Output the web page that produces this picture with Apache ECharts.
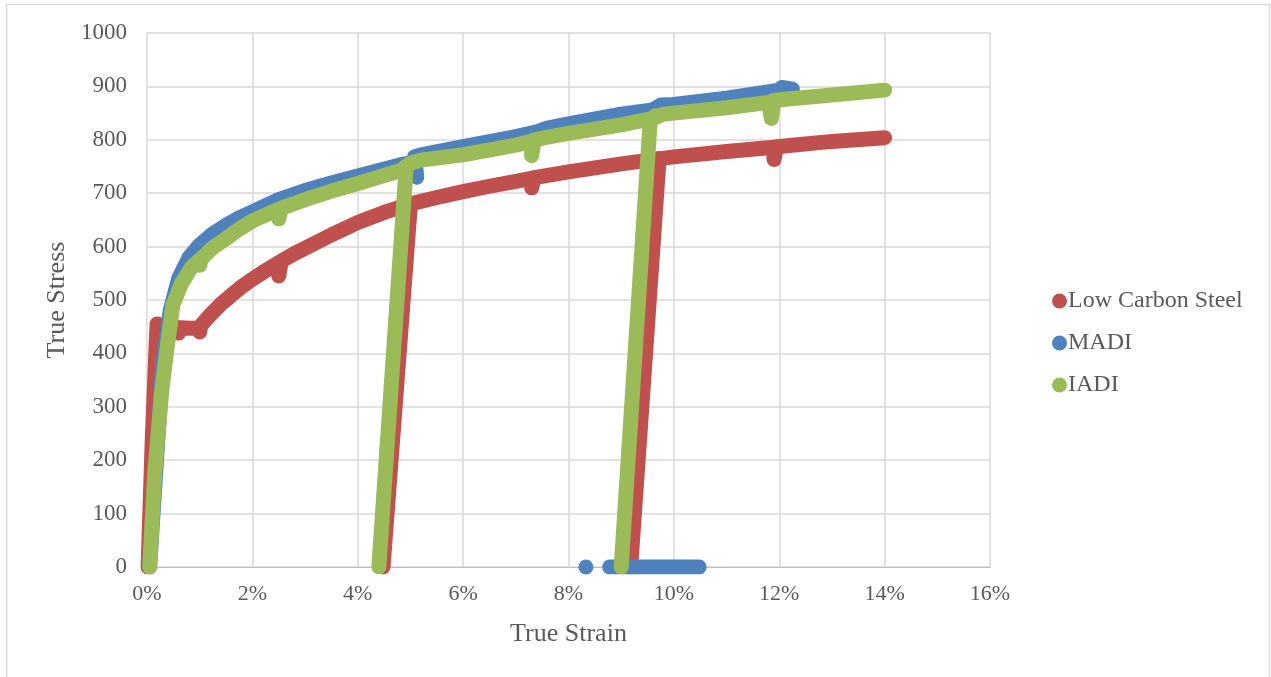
<!DOCTYPE html>
<html>
<head>
<meta charset="utf-8">
<script src="https://cdn.jsdelivr.net/npm/echarts@6/dist/echarts.min.js"></script>
<style>
  html, body { margin: 0; padding: 0; background: #fff; }
  #chart { width: 1271px; height: 677px; }
</style>
</head>
<body>
<div id="chart"></div>
<script>
// Axis ticks
const strainTicks = [0, 0.02, 0.04, 0.06, 0.08, 0.10, 0.12, 0.14, 0.16];
const stressTicks = [0, 100, 200, 300, 400, 500, 600, 700, 800, 900, 1000];

// Low Carbon Steel: [true strain, true stress]
const lowCarbonMain = [
  [0.0002, 0], [0.0010, 240], [0.0019, 455], [0.0035, 452], [0.0060, 448],
  [0.0060, 438], [0.0062, 448], [0.0085, 447], [0.0100, 447], [0.0100, 440],
  [0.0102, 452], [0.0120, 472], [0.0140, 492], [0.0160, 509], [0.0180, 525],
  [0.0200, 539], [0.0225, 555], [0.0250, 570], [0.0250, 545], [0.0255, 573],
  [0.0280, 587], [0.0300, 597], [0.0350, 622], [0.0400, 645], [0.0450, 664],
  [0.0500, 680], [0.0550, 692], [0.0600, 703], [0.0650, 713], [0.0700, 722],
  [0.0730, 728], [0.0730, 710], [0.0735, 729], [0.0800, 740], [0.0900, 755],
  [0.1000, 768], [0.1100, 778], [0.1190, 786], [0.1190, 763], [0.1195, 787],
  [0.1300, 797], [0.1400, 804]
];
const lowCarbonReload1 = [[0.0448, 0], [0.0500, 680]];
const lowCarbonReload2 = [[0.0918, 0], [0.0972, 765]];

// MADI
const madiMain = [
  [0.0005, 0], [0.0018, 200], [0.0030, 380], [0.0044, 480], [0.0060, 540],
  [0.0080, 580], [0.0100, 603], [0.0125, 624], [0.0150, 640], [0.0175, 654],
  [0.0200, 665], [0.0250, 688], [0.0300, 705], [0.0350, 719], [0.0400, 732],
  [0.0480, 753], [0.0505, 758], [0.0512, 730], [0.0508, 768], [0.0520, 772],
  [0.0600, 787], [0.0700, 806], [0.0740, 815], [0.0760, 822], [0.0800, 830],
  [0.0900, 848], [0.0960, 856], [0.0975, 865], [0.1000, 866], [0.1100, 878],
  [0.1200, 893], [0.1205, 898], [0.1225, 895]
];
const madiZeroDot = [[0.0833, 0]];
const madiZeroRun = [[0.0878, 0], [0.1048, 0]];

// IADI
const iadiMain = [
  [0.0005, 0], [0.0015, 180], [0.0028, 330], [0.0038, 410], [0.0049, 490],
  [0.0065, 530], [0.0085, 562], [0.0100, 575], [0.0100, 565], [0.0103, 577],
  [0.0125, 598], [0.0150, 615], [0.0175, 633], [0.0200, 648], [0.0250, 670],
  [0.0250, 652], [0.0255, 672], [0.0300, 688], [0.0350, 704], [0.0400, 718],
  [0.0480, 742], [0.0500, 756], [0.0520, 762], [0.0600, 772], [0.0700, 790],
  [0.0730, 797], [0.0730, 770], [0.0735, 800], [0.0760, 805], [0.0800, 812],
  [0.0900, 828], [0.0960, 840], [0.0980, 848], [0.1000, 850], [0.1100, 860],
  [0.1180, 870], [0.1185, 840], [0.1190, 874], [0.1300, 884], [0.1400, 893]
];
const iadiReload1 = [[0.0440, 0], [0.0492, 750], [0.0500, 756]];
const iadiReload2 = [[0.0900, 0], [0.0955, 835], [0.0965, 845]];

const seriesNames = ['Low Carbon Steel', 'MADI', 'IADI'];
const colors = ['#C0504D', '#4F81BD', '#9BBB59'];
const textColor = '#595959';
const fontFamily = '"Liberation Serif", "Times New Roman", serif';
const LW = 15;

function curve(name, color, data, z) {
  return {
    name: name,
    type: 'line',
    data: data,
    showSymbol: false,
    symbol: 'circle',
    silent: true,
    z: z,
    lineStyle: { color: color, width: LW, cap: 'round', join: 'round' },
    itemStyle: { color: color },
    animation: false
  };
}

const chart = echarts.init(document.getElementById('chart'), null, { renderer: 'canvas' });
chart.setOption({
  backgroundColor: '#ffffff',
  animation: false,
  graphic: [{
    type: 'rect',
    shape: { x: 6.5, y: 4.5, width: 1263, height: 680 },
    style: { fill: 'none', stroke: '#d9d9d9', lineWidth: 1.5 },
    silent: true
  }],
  grid: { left: 147, top: 33, width: 843, height: 534, containLabel: false },
  legend: {
    orient: 'vertical',
    left: 1047,
    top: 284,
    itemGap: 18,
    itemWidth: 15,
    itemHeight: 15,
    icon: 'circle',
    data: seriesNames,
    textStyle: { color: textColor, fontFamily: fontFamily, fontSize: 24, lineHeight: 24, padding: [0, 0, 0, -4] }
  },
  xAxis: {
    type: 'value',
    min: strainTicks[0],
    max: strainTicks[strainTicks.length - 1],
    interval: strainTicks[1] - strainTicks[0],
    name: 'True Strain',
    nameLocation: 'middle',
    nameGap: 54,
    nameTextStyle: { color: textColor, fontFamily: fontFamily, fontSize: 26 },
    axisLine: { show: true, lineStyle: { color: '#bfbfbf', width: 1 } },
    axisTick: { show: false },
    axisLabel: {
      color: textColor, fontFamily: fontFamily, fontSize: 22, margin: 16,
      formatter: v => Math.round(v * 100) + '%'
    },
    splitLine: { show: true, lineStyle: { color: '#d9d9d9', width: 1.5 } }
  },
  yAxis: {
    type: 'value',
    min: stressTicks[0],
    max: stressTicks[stressTicks.length - 1],
    interval: stressTicks[1] - stressTicks[0],
    name: 'True Stress',
    nameLocation: 'middle',
    nameGap: 76,
    nameRotate: 90,
    nameTextStyle: { color: textColor, fontFamily: fontFamily, fontSize: 26 },
    axisLine: { show: false },
    axisTick: { show: false },
    axisLabel: {
      color: textColor, fontFamily: fontFamily, fontSize: 23, margin: 20,
      formatter: v => String(v)
    },
    splitLine: { show: true, lineStyle: { color: '#d9d9d9', width: 1.5 } }
  },
  series: [
    curve(seriesNames[0], colors[0], lowCarbonMain, 2),
    curve(seriesNames[0], colors[0], lowCarbonReload1, 2),
    curve(seriesNames[0], colors[0], lowCarbonReload2, 2),
    curve(seriesNames[1], colors[1], madiMain, 3),
    curve(seriesNames[1], colors[1], madiZeroRun, 3),
    {
      name: seriesNames[1], type: 'scatter', data: madiZeroDot, symbol: 'circle',
      symbolSize: LW, itemStyle: { color: colors[1], opacity: 1 }, z: 3, silent: true
    },
    curve(seriesNames[2], colors[2], iadiMain, 4),
    curve(seriesNames[2], colors[2], iadiReload1, 4),
    curve(seriesNames[2], colors[2], iadiReload2, 4)
  ]
});
</script>
</body>
</html>
